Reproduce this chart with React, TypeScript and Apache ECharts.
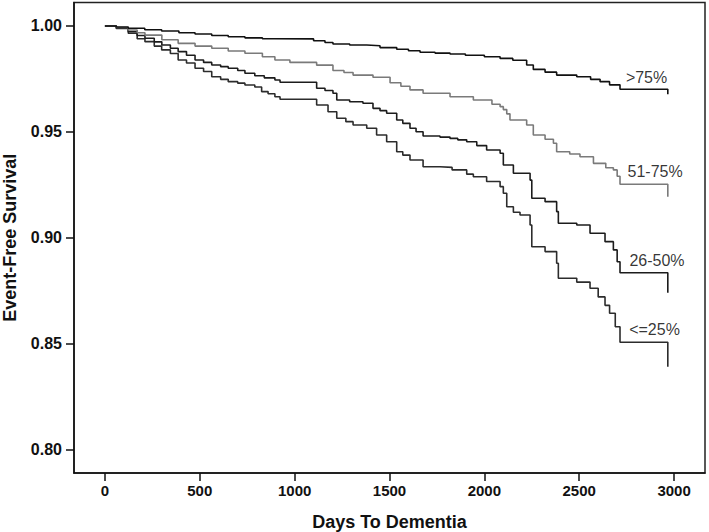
import React, { useEffect, useRef } from "react";
import * as echarts from "echarts";

// Kaplan-Meier step data (day of event, survival after event)
const daysGt75 = [0, 60, 123, 210, 299, 390, 475, 563, 650, 738, 830, 896, 1100, 1160, 1202, 1290, 1380, 1450, 1538, 1600, 1661, 1740, 1819, 1900, 2000, 2083, 2150, 2223, 2258, 2320, 2381, 2487, 2560, 2610, 2660, 2715, 2967];
const survGt75 = [1.0, 0.9995, 0.9989, 0.9982, 0.9976, 0.9968, 0.9962, 0.9955, 0.9949, 0.9944, 0.994, 0.9939, 0.993, 0.9922, 0.9915, 0.991, 0.9907, 0.9898, 0.989, 0.9883, 0.9876, 0.9872, 0.9868, 0.9862, 0.9855, 0.9847, 0.9838, 0.9816, 0.9795, 0.9782, 0.9768, 0.976, 0.9748, 0.9737, 0.9722, 0.9701, 0.9677];

const days51to75 = [0, 60, 123, 170, 211, 300, 386, 475, 563, 650, 738, 830, 896, 975, 1116, 1202, 1260, 1308, 1413, 1503, 1560, 1608, 1677, 1819, 1942, 2040, 2083, 2100, 2118, 2135, 2223, 2258, 2320, 2364, 2381, 2450, 2504, 2575, 2640, 2680, 2700, 2715, 2967];
const surv51to75 = [1.0, 0.9993, 0.9981, 0.9968, 0.9957, 0.9935, 0.9918, 0.9905, 0.9895, 0.9882, 0.9871, 0.9855, 0.9839, 0.9828, 0.9815, 0.979, 0.978, 0.9768, 0.9758, 0.9732, 0.9715, 0.9698, 0.9682, 0.9666, 0.965, 0.963, 0.9619, 0.9605, 0.9585, 0.9556, 0.9532, 0.9485, 0.9465, 0.9446, 0.9406, 0.9395, 0.9382, 0.9351, 0.933, 0.932, 0.929, 0.9252, 0.9193];

const days26to50 = [0, 60, 123, 170, 211, 260, 300, 345, 386, 430, 475, 520, 563, 610, 650, 700, 738, 790, 840, 896, 923, 1116, 1160, 1202, 1222, 1290, 1360, 1413, 1450, 1485, 1538, 1570, 1608, 1640, 1677, 1766, 1819, 1860, 1907, 1960, 2012, 2083, 2100, 2153, 2241, 2250, 2320, 2381, 2390, 2487, 2557, 2636, 2680, 2700, 2715, 2967];
const surv26to50 = [1.0, 0.999, 0.9973, 0.9955, 0.9942, 0.9925, 0.991, 0.9895, 0.9879, 0.9862, 0.9839, 0.9828, 0.9816, 0.9808, 0.98, 0.979, 0.9777, 0.9765, 0.9755, 0.9745, 0.9734, 0.9706, 0.9695, 0.9682, 0.965, 0.9642, 0.9635, 0.9611, 0.96, 0.9588, 0.9556, 0.954, 0.9517, 0.95, 0.948, 0.9475, 0.9469, 0.9462, 0.9453, 0.9435, 0.9414, 0.9399, 0.9343, 0.9304, 0.9272, 0.9186, 0.917, 0.9123, 0.9068, 0.906, 0.9021, 0.8981, 0.8942, 0.8886, 0.8834, 0.874];

const daysLe25 = [0, 60, 123, 170, 211, 260, 299, 345, 386, 430, 475, 520, 563, 610, 650, 700, 738, 790, 826, 860, 896, 923, 1116, 1176, 1222, 1270, 1308, 1380, 1432, 1485, 1538, 1570, 1608, 1677, 1766, 1830, 1907, 1942, 2012, 2083, 2100, 2118, 2153, 2188, 2241, 2250, 2320, 2381, 2390, 2487, 2557, 2600, 2636, 2660, 2690, 2715, 2967];
const survLe25 = [1.0, 0.9988, 0.9966, 0.994, 0.9926, 0.9905, 0.9887, 0.987, 0.9839, 0.9825, 0.98, 0.9785, 0.976, 0.9748, 0.9737, 0.973, 0.9721, 0.9712, 0.969, 0.968, 0.9666, 0.9654, 0.9627, 0.9595, 0.9564, 0.9548, 0.9532, 0.9517, 0.9485, 0.9453, 0.9406, 0.939, 0.9367, 0.9335, 0.9332, 0.932, 0.93, 0.9288, 0.9265, 0.9241, 0.921, 0.9146, 0.912, 0.9107, 0.906, 0.8957, 0.8934, 0.8879, 0.8808, 0.879, 0.8761, 0.872, 0.868, 0.8643, 0.8579, 0.8506, 0.839];

const groupNames = [">75%", "51-75%", "26-50%", "<=25%"];
const labelDays = [2855, 2900, 2910, 2897];
const labelSurv = [0.9758, 0.9312, 0.8894, 0.8564];

const xTicks = [0, 500, 1000, 1500, 2000, 2500, 3000];
const yTicks = [0.8, 0.85, 0.9, 0.95, 1.0];

const FONT = "Liberation Sans, Arial, sans-serif";

function zip(xs: number[], ys: number[]) {
  return xs.map((x, i) => [x, ys[i]]);
}

export default function App() {
  const ref = useRef<HTMLDivElement>(null);
  useEffect(() => {
    if (!ref.current) return;
    const chart = echarts.init(ref.current, null, { renderer: "svg" });
    const lineColors = ["#111111", "#7a7a7a", "#1c1c1c", "#2c2c2c"];
    const sets = [
      zip(daysGt75, survGt75),
      zip(days51to75, surv51to75),
      zip(days26to50, surv26to50),
      zip(daysLe25, survLe25),
    ];
    chart.setOption({
      animation: false,
      backgroundColor: "#ffffff",
      grid: {
        left: 74,
        top: 2.5,
        right: 4,
        bottom: 59,
        containLabel: false,
        outerBoundsMode: "none",
        show: true,
        borderColor: "#222",
        borderWidth: 1.5,
        backgroundColor: "transparent",
      },
      xAxis: {
        type: "value",
        min: -163,
        max: 3163,
        name: "Days To Dementia",
        nameLocation: "middle",
        nameGap: 40,
        nameTextStyle: { fontFamily: FONT, fontSize: 18, fontWeight: "bold", color: "#111" },
        splitLine: { show: false },
        axisLine: { show: true, onZero: false, lineStyle: { color: "#111", width: 1.5 } },
        axisTick: { show: true, length: 8, inside: false, customValues: xTicks, lineStyle: { color: "#111", width: 1.5 } },
        axisLabel: {
          customValues: xTicks,
          margin: 10,
          fontFamily: FONT,
          fontSize: 15,
          fontWeight: "bold",
          color: "#111",
          formatter: (v: number) => String(v),
        },
      },
      yAxis: {
        type: "value",
        min: 0.7888,
        max: 1.0111,
        name: "Event-Free Survival",
        nameLocation: "middle",
        nameRotate: 90,
        nameGap: 55,
        nameTextStyle: { fontFamily: FONT, fontSize: 18, fontWeight: "bold", color: "#111" },
        splitLine: { show: false },
        axisLine: { show: true, onZero: false, lineStyle: { color: "#111", width: 1.5 } },
        axisTick: { show: true, length: 8, inside: false, customValues: yTicks, lineStyle: { color: "#111", width: 1.5 } },
        axisLabel: {
          customValues: yTicks,
          margin: 12,
          fontFamily: FONT,
          fontSize: 16,
          fontWeight: "bold",
          color: "#111",
          formatter: (v: number) => v.toFixed(2),
        },
      },
      series: [
        ...sets.map((d, i) => ({
          type: "line",
          name: groupNames[i],
          step: "end",
          data: d,
          showSymbol: false,
          symbol: "none",
          lineStyle: { color: lineColors[i], width: 1.6 },
          z: 4 - i,
        })),
        {
          type: "scatter",
          symbolSize: 0,
          data: groupNames.map((n, i) => ({ name: n, value: [labelDays[i], labelSurv[i]] })),
          label: {
            show: true,
            position: "inside",
            formatter: "{b}",
            fontFamily: FONT,
            fontSize: 16,
            color: "#000",
          },
          silent: true,
        },
      ],
    });
    return () => chart.dispose();
  }, []);
  return (
    <div
      ref={ref}
      style={{ position: "fixed", left: 0, top: 0, width: 709, height: 532, background: "#fff" }}
    />
  );
}
